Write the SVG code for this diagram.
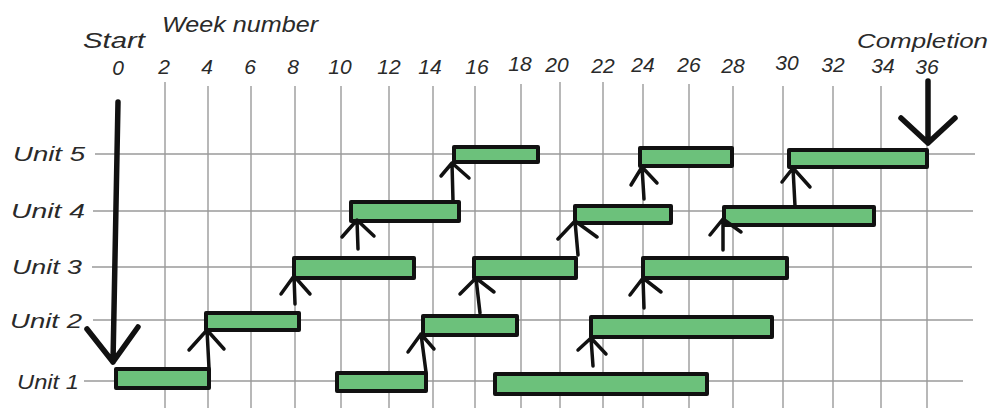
<svg xmlns="http://www.w3.org/2000/svg" width="993" height="408" viewBox="0 0 993 408">
<style>
.t{font-family:"Liberation Sans","DejaVu Sans",sans-serif;font-style:italic;fill:#2a2a2a;}
.num{font-size:21px;text-anchor:middle;}
.unit{font-size:20px;}
.grid line{stroke:#9a9a9a;stroke-width:1.4;}
.bar{fill:#6cc17b;stroke:#111;stroke-width:4;stroke-linejoin:round;}
.arr{fill:none;stroke:#111;stroke-width:3.5;stroke-linecap:round;stroke-linejoin:round;}
.big{fill:none;stroke:#111;stroke-width:5.5;stroke-linecap:round;stroke-linejoin:round;}
</style>
<rect width="993" height="408" fill="#fff"/>
<g id="grid" class="grid">
<line x1="165" y1="82" x2="165" y2="408"/>
<line x1="208" y1="86" x2="208" y2="408"/>
<line x1="251" y1="86" x2="251" y2="408"/>
<line x1="295" y1="86" x2="295" y2="408"/>
<line x1="341" y1="86" x2="341" y2="408"/>
<line x1="389" y1="86" x2="389" y2="408"/>
<line x1="433" y1="86" x2="433" y2="408"/>
<line x1="475" y1="86" x2="475" y2="408"/>
<line x1="521" y1="84" x2="521" y2="408"/>
<line x1="560" y1="82" x2="560" y2="408"/>
<line x1="603" y1="82" x2="603" y2="408"/>
<line x1="643" y1="84" x2="643" y2="408"/>
<line x1="689" y1="84" x2="689" y2="408"/>
<line x1="733" y1="86" x2="733" y2="408"/>
<line x1="783" y1="86" x2="783" y2="408"/>
<line x1="833" y1="86" x2="833" y2="408"/>
<line x1="881" y1="86" x2="881" y2="408"/>
<line x1="927" y1="86" x2="927" y2="408"/>
<line x1="95" y1="154" x2="975" y2="154"/>
<line x1="93" y1="211" x2="973" y2="211"/>
<line x1="92" y1="267" x2="972" y2="267"/>
<line x1="93" y1="320" x2="973" y2="320"/>
<line x1="84" y1="381" x2="963" y2="381"/>
</g>
<g id="labels">
<text class="t" x="83" y="48" font-size="22" textLength="62" lengthAdjust="spacingAndGlyphs">Start</text>
<text class="t" x="162" y="32" font-size="22" textLength="156" lengthAdjust="spacingAndGlyphs">Week number</text>
<text class="t" x="857" y="48" font-size="21" textLength="131" lengthAdjust="spacingAndGlyphs">Completion</text>
<g class="t num">
<text x="118" y="75">0</text>
<text x="164" y="74">2</text>
<text x="207" y="74">4</text>
<text x="250" y="74">6</text>
<text x="293" y="74">8</text>
<text x="340" y="74">10</text>
<text x="389" y="74">12</text>
<text x="430" y="74">14</text>
<text x="477" y="74">16</text>
<text x="520" y="71">18</text>
<text x="557" y="72">20</text>
<text x="603" y="73">22</text>
<text x="643" y="72">24</text>
<text x="689" y="72">26</text>
<text x="733" y="73">28</text>
<text x="787" y="70">30</text>
<text x="833" y="72">32</text>
<text x="883" y="73">34</text>
<text x="927" y="74">36</text>
</g>
</g>
<g id="unit5" class="t unit"><text x="13" y="161" textLength="72" lengthAdjust="spacingAndGlyphs">Unit 5</text></g>
<g id="unit4" class="t unit"><text x="11" y="218" textLength="74" lengthAdjust="spacingAndGlyphs">Unit 4</text></g>
<g id="unit3" class="t unit"><text x="12" y="274" textLength="70" lengthAdjust="spacingAndGlyphs">Unit 3</text></g>
<g id="unit2" class="t unit"><text x="10" y="328" textLength="72" lengthAdjust="spacingAndGlyphs">Unit 2</text></g>
<g id="unit1" class="t unit"><text x="17" y="389" textLength="62" lengthAdjust="spacingAndGlyphs">Unit 1</text></g>
<g id="bars">
<rect id="u1b1" class="bar" x="116" y="369" width="93" height="19"/>
<rect id="u1b2" class="bar" x="337" y="373" width="89" height="18"/>
<rect id="u1b3" class="bar" x="495" y="374" width="212" height="20"/>
<rect id="u2b1" class="bar" x="206" y="313" width="93" height="17"/>
<rect id="u2b2" class="bar" x="423" y="316" width="94" height="19"/>
<rect id="u2b3" class="bar" x="591" y="317" width="181" height="20"/>
<rect id="u3b1" class="bar" x="294" y="258" width="120" height="20"/>
<rect id="u3b2" class="bar" x="474" y="258" width="102" height="20"/>
<rect id="u3b3" class="bar" x="643" y="258" width="144" height="20"/>
<rect id="u4b1" class="bar" x="351" y="202" width="108" height="19"/>
<rect id="u4b2" class="bar" x="575" y="206" width="96" height="17"/>
<rect id="u4b3" class="bar" x="724" y="207" width="150" height="18"/>
<rect id="u5b1" class="bar" x="454" y="147" width="84" height="15"/>
<rect id="u5b2" class="bar" x="640" y="148" width="92" height="18"/>
<rect id="u5b3" class="bar" x="789" y="150" width="138" height="17"/>
</g>
<g id="connectors">
<path class="big" d="M118 102 L113 362 M87 329 L113 362 L138 327"/>
<path class="big" d="M928 81 L928 143 M901 118 L928 143 L955 118"/>
<path class="arr" d="M209 368 L207 330 M189 350 L207 330 L224 349"/>
<path class="arr" d="M295 304 L294 276 M281 294 L294 276 L310 294"/>
<path class="arr" d="M358 249 L357 220 M342 237 L357 220 L374 236"/>
<path class="arr" d="M453 201 L452 163 M441 176 L452 163 L469 178"/>
<path class="arr" d="M426 372 L421 334 M408 352 L421 334 L434 349"/>
<path class="arr" d="M480 313 L476 278 M460 294 L476 278 L494 292"/>
<path class="arr" d="M578 255 L575 221 M558 239 L575 221 L597 237"/>
<path class="arr" d="M644 199 L642 167 M631 185 L642 167 L657 183"/>
<path class="arr" d="M593 366 L591 338 M578 350 L591 338 L606 354"/>
<path class="arr" d="M644 308 L643 278 M630 295 L643 278 L661 292"/>
<path class="arr" d="M723 250 L723 219 M710 235 L723 219 L741 232"/>
<path class="arr" d="M795 206 L793 168 M782 182 L793 168 L810 187"/>
</g>
</svg>
